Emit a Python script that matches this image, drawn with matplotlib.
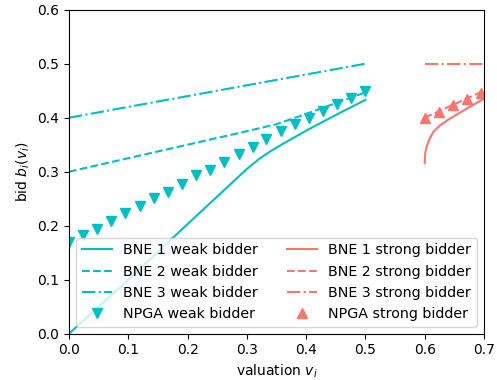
import matplotlib
matplotlib.use("Agg")
import matplotlib.pyplot as plt

# ==========================================================
# Data
# ==========================================================

WEAK_COLOR = "#00BFC4"
STRONG_COLOR = "#F8766D"

# weak bidder, valuations in [0, 0.5]
bne1_weak_v = [0.0, 0.1, 0.2, 0.3, 0.32, 0.34, 0.36, 0.4, 0.45, 0.5]
bne1_weak_b = [0.0, 0.1, 0.203, 0.305, 0.323, 0.338, 0.351, 0.376, 0.405, 0.433]

bne2_weak_v = [0.0, 0.1, 0.2, 0.3, 0.35, 0.4, 0.45, 0.5]
bne2_weak_b = [0.3, 0.325, 0.35, 0.375, 0.388, 0.407, 0.427, 0.447]

bne3_weak_v = [0.0, 0.5]
bne3_weak_b = [0.4, 0.5]

npga_weak_v = [0.0, 0.024, 0.048, 0.071, 0.095, 0.119, 0.143, 0.167, 0.190, 0.214, 0.238,
               0.262, 0.286, 0.310, 0.333, 0.357, 0.381, 0.405, 0.429, 0.452, 0.476, 0.5]
npga_weak_b = [0.169, 0.183, 0.194, 0.209, 0.224, 0.236, 0.251, 0.263, 0.277, 0.293, 0.304,
               0.318, 0.333, 0.346, 0.361, 0.375, 0.389, 0.400, 0.413, 0.425, 0.437, 0.449]

# strong bidder, valuations in [0.6, 0.7]
bne1_strong_v = [0.6, 0.6005, 0.601, 0.603, 0.607, 0.614, 0.625, 0.642, 0.671, 0.7]
bne1_strong_b = [0.316, 0.328, 0.335, 0.345, 0.358, 0.373, 0.385, 0.398, 0.417, 0.435]

bne2_strong_v = [0.6, 0.7]
bne2_strong_b = [0.4, 0.45]

bne3_strong_v = [0.6, 0.7]
bne3_strong_b = [0.5, 0.5]

npga_strong_v = [0.6, 0.624, 0.648, 0.671, 0.695]
npga_strong_b = [0.399, 0.410, 0.423, 0.434, 0.446]

# ==========================================================
# Plot
# ==========================================================

fig = plt.figure(figsize=(4.97, 3.8), dpi=100)
ax = fig.add_axes([69 / 497, 1 - 333.7 / 380, 415 / 497, 324 / 380])

ax.plot(bne1_weak_v, bne1_weak_b, "-", color=WEAK_COLOR, label="BNE 1 weak bidder")
ax.plot(bne2_weak_v, bne2_weak_b, "--", color=WEAK_COLOR, label="BNE 2 weak bidder")
ax.plot(bne3_weak_v, bne3_weak_b, "-.", color=WEAK_COLOR, label="BNE 3 weak bidder")
ax.plot(npga_weak_v, npga_weak_b, "v", color=WEAK_COLOR, ms=7, label="NPGA weak bidder")

ax.plot(bne1_strong_v, bne1_strong_b, "-", color=STRONG_COLOR, label="BNE 1 strong bidder")
ax.plot(bne2_strong_v, bne2_strong_b, "--", color=STRONG_COLOR, label="BNE 2 strong bidder")
ax.plot(bne3_strong_v, bne3_strong_b, "-.", color=STRONG_COLOR, label="BNE 3 strong bidder")
ax.plot(npga_strong_v, npga_strong_b, "^", color=STRONG_COLOR, ms=7, label="NPGA strong bidder")

ax.set_xlim(0, 0.7)
ax.set_ylim(0, 0.6)
ax.set_xlabel("valuation $v_i$")
ax.set_ylabel("bid $b_i(v_i)$")

ax.legend(ncol=2, loc="lower right", prop={"size": 10.3}, handlelength=2.1)

fig.savefig("out.png", dpi=100)
